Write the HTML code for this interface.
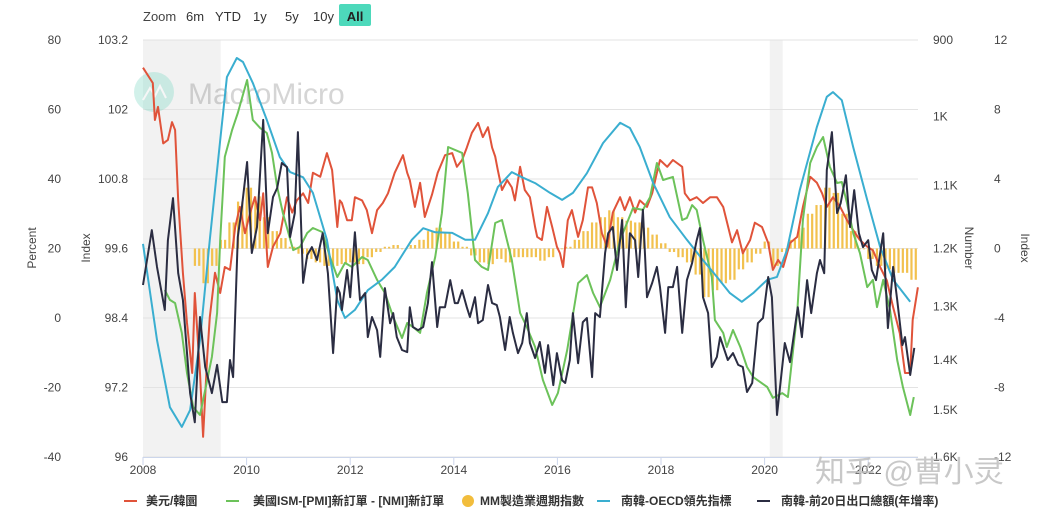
<!DOCTYPE html>
<html><head><meta charset="utf-8">
<style>
html,body{margin:0;padding:0;background:#fff;}
body{width:1038px;height:520px;overflow:hidden;font-family:"Liberation Sans","Noto Sans CJK TC",sans-serif;}
svg text{font-family:"Liberation Sans","Noto Sans CJK TC",sans-serif;}
</style></head>
<body>
<svg id="chart" width="1038" height="520" xmlns="http://www.w3.org/2000/svg">
  <g font-size="13" fill="#333">
    <text x="143" y="21" fill="#444">Zoom</text>
    <text x="186" y="21">6m</text>
    <text x="215" y="21">YTD</text>
    <text x="253" y="21">1y</text>
    <text x="285" y="21">5y</text>
    <text x="313" y="21">10y</text>
    <rect x="339" y="4" width="32" height="22" rx="2" fill="#4dd9bb"/>
    <text x="355" y="21" text-anchor="middle" font-weight="bold" fill="#222">All</text>
  </g>
  <g id="bands"></g>
  <g id="grid"></g>
  <g opacity="0.35">
    <circle cx="154" cy="92" r="20" fill="#7fd9c6"/>
    <path d="M143 100 L150 88 L155 96 L160 86 L166 98" stroke="#fff" stroke-width="2" fill="none"/>
    <text x="188" y="104" font-size="30" fill="#888">MacroMicro</text>
  </g>
  <g id="bars"></g>
  <g id="lines"></g>
  <g id="axes" font-size="12" fill="#444"></g>
  <text x="0" y="0" transform="translate(36,248) rotate(-90)" text-anchor="middle" font-size="12" fill="#444">Percent</text>
  <text x="0" y="0" transform="translate(90,248) rotate(-90)" text-anchor="middle" font-size="12" fill="#444">Index</text>
  <text x="0" y="0" transform="translate(965,248) rotate(90)" text-anchor="middle" font-size="12" fill="#444">Number</text>
  <text x="0" y="0" transform="translate(1021,248) rotate(90)" text-anchor="middle" font-size="12" fill="#444">Index</text>
  <text x="815" y="482" font-size="30" fill="#bbb" opacity="0.8">知乎 @曹小灵</text>
  <g font-size="12" font-weight="bold" fill="#333">
    <g><line x1="124" y1="501" x2="137" y2="501" stroke="#e0533a" stroke-width="2"/><text x="146" y="505">美元/韓圜</text></g>
    <g><line x1="226" y1="501" x2="239" y2="501" stroke="#6cc25a" stroke-width="2"/><text x="253" y="505">美國ISM-[PMI]新訂單 - [NMI]新訂單</text></g>
    <g><circle cx="468" cy="501" r="6" fill="#f2bd3c"/><text x="480" y="505">MM製造業週期指數</text></g>
    <g><line x1="597" y1="501" x2="610" y2="501" stroke="#3aaed0" stroke-width="2"/><text x="621" y="505">南韓-OECD領先指標</text></g>
    <g><line x1="757" y1="501" x2="770" y2="501" stroke="#2b2d42" stroke-width="2"/><text x="781" y="505">南韓-前20日出口總額(年增率)</text></g>
  </g>
</svg>
<script>
// years since 2008
const redT=[0,.19,.23,.29,.39,.48,.56,.62,.68,.77,.85,.95,1.00,1.10,1.16,1.24,1.29,1.39,1.49,1.58,1.68,1.78,1.87,1.97,2.07,2.16,2.26,2.32,2.41,2.51,2.65,2.78,2.88,2.97,3.09,3.19,3.28,3.42,3.55,3.65,3.75,3.80,3.84,3.94,4.03,4.09,4.23,4.32,4.42,4.52,4.63,4.73,4.86,5.02,5.10,5.15,5.25,5.35,5.44,5.58,5.69,5.83,5.97,6.06,6.16,6.25,6.35,6.47,6.56,6.66,6.74,6.80,6.85,6.93,7.03,7.12,7.18,7.28,7.37,7.47,7.57,7.61,7.70,7.80,7.90,7.99,8.05,8.11,8.20,8.28,8.40,8.49,8.59,8.67,8.76,8.86,8.96,9.07,9.21,9.30,9.40,9.50,9.59,9.73,9.83,9.92,9.98,10.12,10.23,10.41,10.46,10.56,10.69,10.81,10.95,11.08,11.20,11.37,11.47,11.58,11.72,11.81,11.95,12.07,12.16,12.26,12.36,12.49,12.63,12.74,12.88,13.01,13.11,13.20,13.32,13.46,13.59,13.71,13.84,13.98,14.09,14.23,14.36,14.48,14.61,14.71,14.81,14.86,14.96];
const redV=[935,955,1005,987,1038,1033,1008,1019,1123,1241,1330,1425,1276,1425,1556,1394,1319,1241,1276,1231,1236,1165,1133,1175,1142,1118,1154,1112,1231,1197,1175,1118,1142,1123,1112,1127,1081,1087,1052,1077,1165,1123,1127,1154,1154,1118,1123,1138,1175,1138,1127,1112,1081,1055,1081,1092,1133,1096,1149,1114,1081,1055,1052,1072,1062,1044,1023,1009,1029,1015,1044,1057,1077,1107,1092,1103,1123,1072,1107,1118,1165,1181,1186,1133,1165,1197,1208,1231,1154,1138,1181,1154,1103,1103,1127,1175,1197,1142,1118,1138,1118,1142,1123,1133,1112,1081,1062,1072,1062,1072,1112,1123,1118,1127,1118,1118,1133,1190,1170,1208,1186,1158,1165,1191,1236,1219,1231,1191,1181,1133,1087,1096,1112,1133,1118,1133,1154,1170,1186,1197,1203,1231,1254,1301,1349,1425,1425,1324,1266];
const blackT=[0,.17,.27,.42,.48,.58,.68,.77,.91,1.00,1.10,1.20,1.33,1.43,1.53,1.62,1.68,1.74,1.83,1.91,2.01,2.10,2.20,2.32,2.41,2.51,2.59,2.68,2.78,2.84,2.93,2.99,3.09,3.17,3.26,3.36,3.47,3.57,3.67,3.75,3.80,3.84,3.94,4.00,4.09,4.19,4.29,4.34,4.42,4.52,4.58,4.67,4.77,4.83,4.90,5.00,5.10,5.15,5.21,5.31,5.41,5.50,5.58,5.68,5.73,5.83,5.93,6.02,6.08,6.16,6.25,6.31,6.41,6.47,6.56,6.66,6.74,6.83,6.89,6.99,7.08,7.14,7.24,7.32,7.41,7.47,7.57,7.66,7.76,7.82,7.92,7.99,8.09,8.15,8.24,8.30,8.40,8.49,8.57,8.67,8.73,8.82,8.92,8.98,9.07,9.15,9.25,9.32,9.40,9.50,9.56,9.65,9.73,9.83,9.92,9.98,10.08,10.14,10.23,10.31,10.41,10.50,10.60,10.69,10.75,10.81,10.91,10.98,11.08,11.14,11.29,11.39,11.49,11.58,11.66,11.76,11.87,11.97,12.07,12.14,12.24,12.39,12.49,12.64,12.72,12.82,12.90,13.01,13.07,13.15,13.20,13.30,13.40,13.47,13.57,13.65,13.73,13.82,13.90,14.00,14.07,14.15,14.29,14.38,14.48,14.56,14.66,14.71,14.81,14.89];
const blackV=[9.5,25.3,14.7,2.3,22.4,34.5,12.9,5.2,-21.6,-30.0,0.3,-14.1,-21.6,-13.5,-24.2,-24.2,-12.1,-17.0,23.3,31.9,44.9,18.7,26.2,57.0,24.4,34.8,37.4,44.6,43.4,23.3,30.2,53.5,10.1,18.1,20.4,16.7,24.4,12.9,-10.1,8.9,7.2,2.3,13.8,6.0,24.7,5.2,7.2,-5.5,0.3,-3.5,-11.2,8.6,-1.5,1.4,-5.5,-9.2,-9.8,3.1,-2.6,-3.5,-2.6,4.3,16.1,-2.6,3.1,3.1,10.9,4.3,4.3,8.0,3.1,0.3,6.0,-1.5,-0.6,9.5,4.3,3.7,0.3,-9.2,0.3,-4.3,-10.1,-7.2,1.4,-7.2,-11.5,-6.9,-15.8,-7.8,-19.3,-10.1,-17.9,-18.7,-12.1,1.4,-13.0,-1.2,0.0,-17.0,1.4,0.3,18.7,24.4,26.2,13.8,28.2,3.1,24.4,22.4,11.8,31.1,6.0,10.1,14.7,8.9,-4.3,8.9,8.9,14.7,-4.3,10.9,15.8,22.4,25.9,6.0,1.4,-14.1,-11.2,-5.5,-12.1,-10.1,-13.5,-14.1,-21.3,-18.7,-1.5,0.0,11.8,6.0,-27.9,-7.2,-12.7,3.1,-5.5,10.9,1.4,12.9,16.7,12.9,42.6,53.5,30.2,33.1,41.1,26.2,36.8,24.4,20.4,22.4,13.8,10.9,24.4,-2.9,14.7,5.2,-7.8,-5.5,-16.4,-8.6];
const blueT=[0,.27,.52,.75,.91,1.10,1.29,1.49,1.62,1.81,1.93,2.12,2.39,2.64,2.84,3.09,3.28,3.55,3.75,3.90,4.09,4.34,4.61,4.86,5.19,5.41,5.64,5.97,6.22,6.41,6.66,6.85,7.12,7.32,7.57,7.86,8.09,8.30,8.57,8.88,9.21,9.40,9.59,9.85,10.17,10.50,10.81,11.08,11.33,11.56,11.78,12.05,12.24,12.43,12.68,13.01,13.20,13.32,13.49,13.71,13.98,14.23,14.48,14.81];
const blueV=[99.68,98.02,96.86,96.52,96.81,98.02,99.75,101.47,102.56,102.89,102.82,102.46,101.82,101.18,100.92,100.83,100.56,99.75,98.71,98.40,98.54,98.88,99.06,99.28,99.75,99.95,99.88,99.87,99.75,99.75,100.21,100.66,100.92,100.83,100.73,100.56,100.44,100.56,100.90,101.42,101.77,101.68,101.35,100.73,100.14,99.75,99.40,99.11,98.83,98.68,98.83,99.06,99.11,99.57,100.61,101.70,102.22,102.30,102.16,101.35,100.44,99.63,99.06,98.68];
const greenT=[.42,.52,.62,.75,.85,.97,1.10,1.20,1.33,1.43,1.49,1.58,1.72,1.83,2.01,2.12,2.26,2.39,2.49,2.59,2.70,2.90,3.03,3.17,3.28,3.46,3.61,3.75,3.90,4.03,4.23,4.34,4.52,4.67,4.83,5.00,5.10,5.21,5.35,5.48,5.64,5.77,5.89,6.16,6.27,6.41,6.54,6.66,6.80,6.93,7.12,7.28,7.41,7.57,7.72,7.90,8.01,8.19,8.40,8.57,8.69,8.82,9.02,9.21,9.46,9.65,9.79,9.92,10.04,10.23,10.41,10.50,10.60,10.69,10.81,10.98,11.04,11.20,11.27,11.39,11.53,11.66,11.78,12.05,12.16,12.34,12.45,12.63,12.74,12.88,13.01,13.13,13.26,13.40,13.49,13.59,13.71,13.84,13.98,14.09,14.17,14.29,14.42,14.56,14.67,14.81,14.88];
const greenV=[-2.39,-2.96,-3.14,-4.86,-7.17,-9.12,-9.58,-8.14,-6.24,-3.71,0.49,5.27,6.82,7.80,9.70,7.40,6.94,6.65,5.50,3.54,2.04,-0.09,0.09,0.89,1.18,0.95,-0.49,-1.64,-0.83,-1.06,-0.49,-0.66,-1.81,-2.56,-3.94,-5.15,-4.29,-4.52,-4.86,-2.56,-0.49,2.04,5.84,5.50,3.19,-0.66,-1.06,-1.24,1.47,1.64,-0.66,-3.71,-4.52,-5.67,-7.57,-9.01,-8.32,-5.84,-1.99,-1.53,-2.56,-3.37,-1.81,0.49,2.33,2.22,2.96,4.92,3.94,4.12,1.64,1.76,2.50,2.22,0.49,-1.64,-4.12,-4.86,-5.67,-4.69,-5.67,-6.82,-7.40,-7.97,-8.60,-8.32,-8.55,-3.71,1.64,4.92,5.84,6.42,4.69,3.77,3.83,2.62,0.89,-0.26,-2.22,-1.81,-3.37,-1.81,-3.54,-6.42,-7.97,-9.58,-8.55];
// MM cycle index, bi-monthly from 2009.0
const barStart=1;
const barV=[-1.0,-2.0,-1.0,0.5,1.5,2.7,3.5,3.0,1.8,1.0,0.6,0.1,-0.3,-0.6,-0.8,-1.0,-1.0,-0.9,-0.8,-0.9,-0.5,-0.2,0.1,0.2,0.0,0.2,0.5,1.0,1.2,0.9,0.4,0.1,-0.4,-0.8,-0.9,-0.6,-0.8,-0.5,-0.5,-0.5,-0.7,-0.5,0.0,0.1,0.5,1.0,1.5,1.8,2.2,1.8,1.6,1.5,1.2,0.8,0.3,-0.2,-0.5,-0.8,-1.5,-2.8,-2.4,-2.0,-1.8,-1.2,-0.8,-0.3,0.4,-1.0,-0.2,0.5,1.2,2.0,2.5,3.5,3.2,2.0,1.0,0.0,-0.6,-1.0,-1.2,-1.4,-1.4,-1.8];
const yearTicks=[2008,2010,2012,2014,2016,2018,2020,2022];
const pctTicks=[80,60,40,20,0,-20,-40];
const idxLTicks=["103.2","102","100.8","99.6","98.4","97.2","96"];
const numTicks=["900","1K","1.1K","1.2K","1.3K","1.4K","1.5K","1.6K"];
const numTickV=[900,1000,1100,1200,1300,1400,1500,1600];
const idxRTicks=[12,8,4,0,-4,-8,-12];
const bandsT=[[0,1.5],[12.1,12.35]];

const NS="http://www.w3.org/2000/svg";
const L=143,R=918,T=40,B=457;
const X=t=>L+t*51.8;
const yPct=v=>T+(80-v)/120*(B-T);
const yIdxL=v=>T+(103.2-v)/7.2*(B-T);
const yNum=v=>T+Math.log(v/900)/Math.log(1600/900)*(B-T);
const yIdxR=v=>T+(12-v)/24*(B-T);
function mk(tag,attrs,parent){const e=document.createElementNS(NS,tag);for(const k in attrs)e.setAttribute(k,attrs[k]);parent.appendChild(e);return e;}

const bands=document.getElementById('bands');
bandsT.forEach(b=>{const r=mk('rect',{x:X(b[0]),y:T,width:X(b[1])-X(b[0]),height:B-T,fill:'#f2f2f2'},bands);

});

const grid=document.getElementById('grid');
pctTicks.forEach(v=>{const g=mk('line',{x1:L,x2:R,y1:yPct(v),y2:yPct(v),stroke:'#e3e3e3','stroke-width':1},grid);

});
const ax=mk('line',{x1:L,x2:R,y1:B+0.5,y2:B+0.5,stroke:'#ccd6eb','stroke-width':1},grid);



const axes=document.getElementById('axes');
yearTicks.forEach(y=>{const x=X(y-2008);
const tk=mk('line',{x1:x,x2:x,y1:B,y2:B+8,stroke:'#ccd6eb'},axes);


const t=mk('text',{x:x,y:B+17,'text-anchor':'middle'},axes);t.textContent=y;

});
pctTicks.forEach(v=>{const t=mk('text',{x:61,y:yPct(v)+4,'text-anchor':'end'},axes);t.textContent=v;

});
idxLTicks.forEach(s=>{const t=mk('text',{x:128,y:yIdxL(parseFloat(s))+4,'text-anchor':'end'},axes);t.textContent=s;

});
numTicks.forEach((s,i)=>{const t=mk('text',{x:933,y:yNum(numTickV[i])+4},axes);t.textContent=s;

});
idxRTicks.forEach(v=>{const t=mk('text',{x:994,y:yIdxR(v)+4},axes);t.textContent=v;

});

const bars=document.getElementById('bars');
barV.forEach((v,i)=>{const t=barStart+i/6;const y0=yIdxR(0),y1=yIdxR(v);
for(let j=0;j<2;j++){const b=mk('rect',{x:X(t+j/12)-1,y:Math.min(y0,y1),width:2.2,height:Math.max(0.8,Math.abs(y1-y0)),fill:'#f2c14e'},bars);

}});

const lines=document.getElementById('lines');
function line(ts,vs,yf,color,name){const d=ts.map((t,i)=>(i?'L':'M')+X(t).toFixed(1)+' '+yf(vs[i]).toFixed(1)).join(' ');
const p=mk('path',{d:d,fill:'none',stroke:color,'stroke-width':2,'stroke-linejoin':'round'},lines);

}
line(redT,redV,yNum,'#e0533a','usdkrw-line');
line(greenT,greenV,yIdxR,'#6cc25a','ism-new-orders-line');
line(blueT,blueV,yIdxL,'#3aaed0','korea-oecd-line');
line(blackT,blackV,yPct,'#2b2d42','korea-exports-line');
</script>
</body></html>
